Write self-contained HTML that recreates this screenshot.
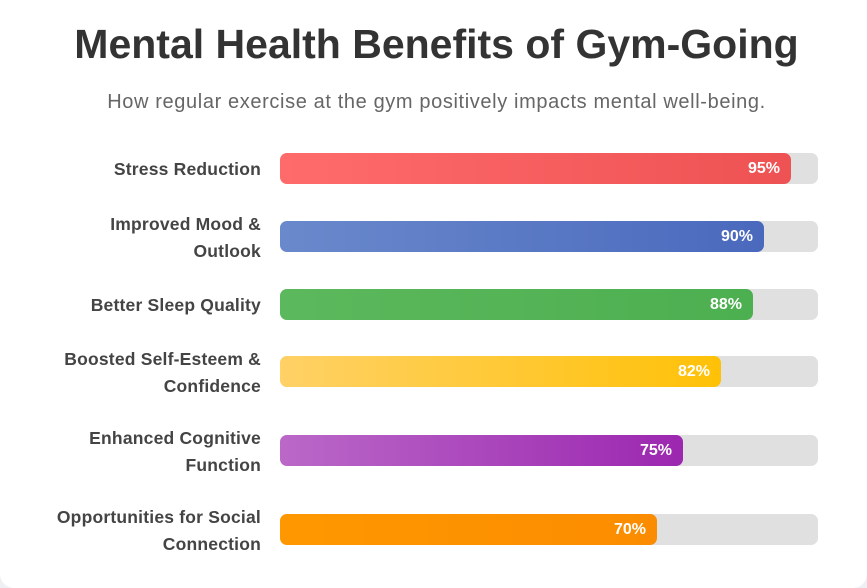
<!DOCTYPE html>
<html>
<head>
<meta charset="utf-8">
<style>
  html, body { margin:0; padding:0; }
  body {
    width:867px; height:587px; overflow:hidden; position:relative;
    background:#eef0f3;
    font-family:"Liberation Sans", Arial, sans-serif;
  }
  .card {
    position:absolute; left:0; top:-20px; width:867px; height:608px;
    background:#ffffff; border-radius:14px;
  }
  .title {
    position:absolute; left:0; width:873px; top:24px;
    text-align:center; font-size:41px; line-height:41px; font-weight:bold;
    color:#333333; white-space:nowrap;
  }
  .subtitle {
    position:absolute; left:0; width:873px; top:92px;
    text-align:center; font-size:20px; line-height:20px; color:#666666;
    letter-spacing:0.62px; white-space:nowrap;
  }
  .row {
    position:absolute; left:0; width:867px; height:31px;
  }
  .label {
    position:absolute; right:606px; top:0; height:31px;
    display:flex; align-items:center; justify-content:flex-end;
  }
  .label span {
    display:block; text-align:right; white-space:nowrap;
    font-size:17.5px; line-height:27px; font-weight:bold; color:#444444;
    letter-spacing:0.2px; padding-top:2px;
  }
  .track {
    position:absolute; left:280px; top:0; width:538px; height:31px;
    background:#e0e0e0; border-radius:7px;
  }
  .fill {
    position:absolute; left:0; top:0; height:31px; border-radius:7px;
    display:flex; align-items:center; justify-content:flex-end;
    box-sizing:border-box; padding-right:11px;
    color:#ffffff; font-weight:bold; font-size:16px;
  }
</style>
</head>
<body>
<div class="card"></div>
<div class="title">Mental Health Benefits of Gym-Going</div>
<div class="subtitle">How regular exercise at the gym positively impacts mental well-being.</div>

<div class="row" style="top:153px;">
  <div class="label"><span>Stress Reduction</span></div>
  <div class="track"><div class="fill" style="width:511px;background:linear-gradient(90deg,#ff6b6b,#ee5253);">95%</div></div>
</div>

<div class="row" style="top:221px;">
  <div class="label"><span>Improved Mood &amp;<br>Outlook</span></div>
  <div class="track"><div class="fill" style="width:484px;background:linear-gradient(90deg,#6a89cc,#4a69bd);">90%</div></div>
</div>

<div class="row" style="top:289px;">
  <div class="label"><span>Better Sleep Quality</span></div>
  <div class="track"><div class="fill" style="width:473px;background:linear-gradient(90deg,#5cb85c,#4caf50);">88%</div></div>
</div>

<div class="row" style="top:356px;">
  <div class="label"><span>Boosted Self-Esteem &amp;<br>Confidence</span></div>
  <div class="track"><div class="fill" style="width:441px;background:linear-gradient(90deg,#ffd166,#ffc107);">82%</div></div>
</div>

<div class="row" style="top:435px;">
  <div class="label"><span>Enhanced Cognitive<br>Function</span></div>
  <div class="track"><div class="fill" style="width:403px;background:linear-gradient(90deg,#ba68c8,#9c27b0);">75%</div></div>
</div>

<div class="row" style="top:514px;">
  <div class="label"><span>Opportunities for Social<br>Connection</span></div>
  <div class="track"><div class="fill" style="width:377px;background:linear-gradient(90deg,#ff9800,#fb8c00);">70%</div></div>
</div>
</body>
</html>
